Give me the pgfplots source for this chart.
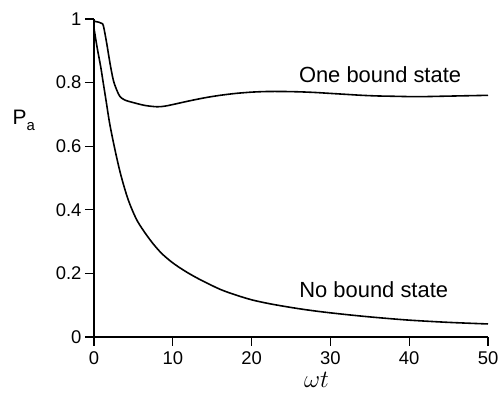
\documentclass[border=0pt]{standalone}
\usepackage{fontspec}
\setmainfont{Liberation Sans}
\usepackage{pgfplots}
\pgfplotsset{compat=1.18}
\begin{document}
\begin{tikzpicture}
\begin{axis}[
  at={(0,0)}, anchor=south west,
  scale only axis, width=394bp, height=318bp,
  xmin=0, xmax=50, ymin=0, ymax=1,
  axis lines=left, axis line style={line width=1.1pt, -},
  xtick={0,10,20,30,40,50}, ytick={0,0.2,0.4,0.6,0.8,1},
  tick align=outside, major tick length=9bp,
  tick style={line width=1.1pt, black},
  ticklabel style={font=\fontsize{18.5}{20}\selectfont},
  /pgf/number format/assume math mode=true,
  xticklabel style={yshift=-2bp},
  clip=false,
]
\addplot[black, line width=1.6pt, smooth, tension=0.5] coordinates {
(0,0.993) (0.6,0.99) (1.0,0.986) (1.2,0.978) (1.61,0.924) (2.03,0.861) (2.45,0.808)
(2.88,0.777) (3.3,0.756) (3.93,0.745) (5,0.737) (6.5,0.728) (8,0.724) (9,0.726)
(10,0.731) (12,0.742) (14,0.752) (16,0.760) (18,0.766) (20,0.770) (22,0.772)
(24,0.772) (26,0.771) (28,0.769) (30,0.766) (32,0.763) (34,0.760) (36,0.758)
(38,0.757) (40,0.756) (42,0.756) (44,0.757) (46,0.758) (48,0.759) (50,0.760)
};
\addplot[black, line width=1.6pt, smooth, tension=0.5] coordinates {
(0,0.971) (0.4,0.91) (0.85,0.85) (1.2,0.795) (1.52,0.745) (2,0.67) (2.66,0.589)
(3.4,0.51) (4.35,0.431) (5.5,0.365) (7.1,0.306) (8.5,0.265) (10,0.233) (11.7,0.205)
(13.5,0.18) (16,0.150) (18,0.132) (20,0.117) (22,0.106) (24,0.097) (26,0.089) (28,0.082)
(30,0.076) (33,0.068) (36,0.061) (40,0.053) (45,0.046) (50,0.041)
};
\node[font=\fontsize{22}{24}\selectfont] at (axis cs:36.3,0.824) {One bound state};
\node[font=\fontsize{22}{24}\selectfont] at (axis cs:35.5,0.149) {No bound state};
\node[font=\fontsize{21}{24}\selectfont] at (axis description cs:-0.178,0.68) {P\raisebox{-0.28em}{\fontsize{15}{16}\selectfont a}};
\node[anchor=base, font=\fontsize{30}{32}\selectfont] at (axis description cs:0.565,-0.16) {$\omega t$};
\end{axis}
\pgfresetboundingbox
\path (-94bp,-58bp) rectangle (408bp,337bp);
\end{tikzpicture}
\end{document}
